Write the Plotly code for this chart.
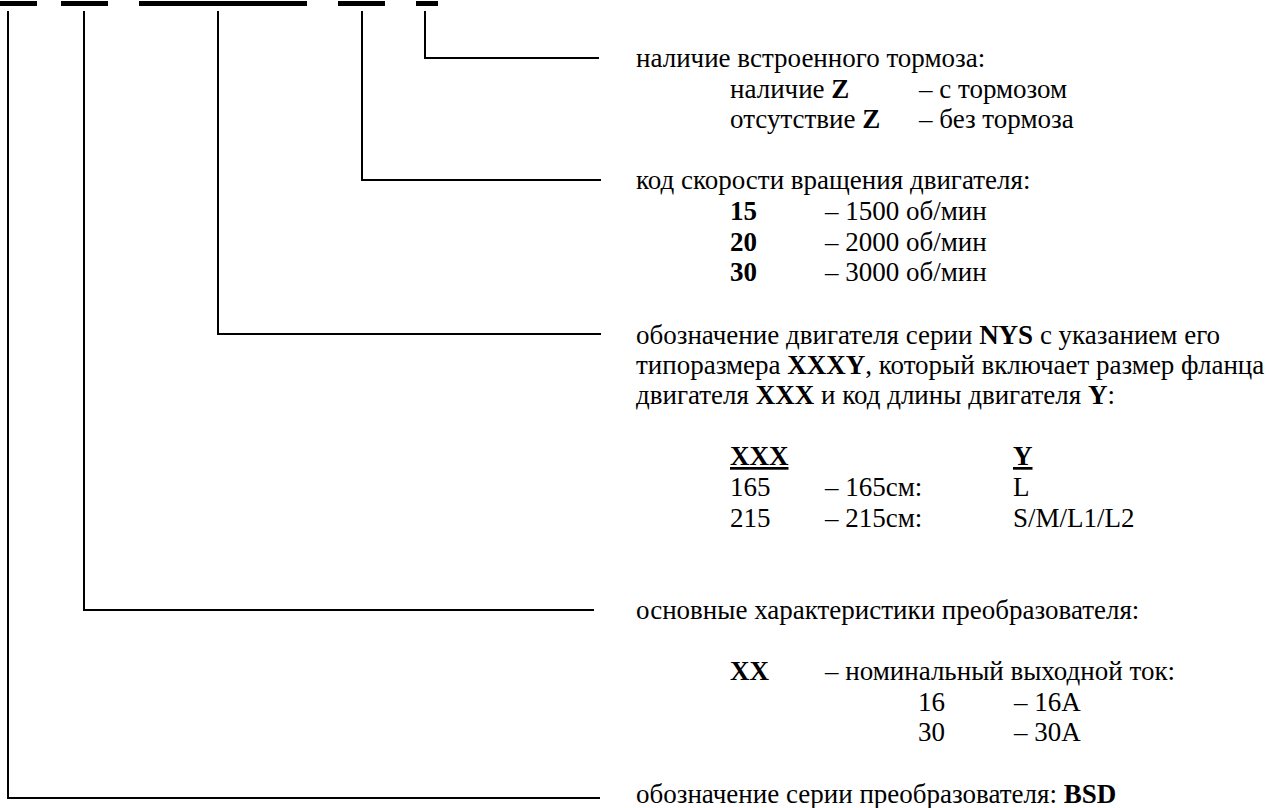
import plotly.graph_objects as go

W, H = 1269, 808
FONT = "Liberation Serif, Times New Roman, serif"
FS = 27

# code placeholder segments at the top (start x, end x)
seg_x0 = [0, 61, 139, 338, 416]
seg_x1 = [37, 108, 307, 385, 438]
seg_y = 3.5

# leader lines: vertical x, bend y, horizontal end x
lead_x = [8, 84, 218, 362, 425]
lead_y = [798, 610, 334, 180, 58]
lead_end = [600, 594, 601, 601, 599]
lead_top = 11

# text rows
text_x = [636, 730, 918,
          730, 918,
          636, 730, 824, 730, 824, 730, 824,
          636, 636, 636,
          730, 1013,
          730, 824, 1013,
          730, 824, 1013,
          636,
          730, 824,
          918, 1013,
          918, 1013,
          636]
text_y = [58, 89, 89,
          119, 119,
          180, 211, 211, 242, 242, 272, 272,
          335, 365, 395,
          456, 456,
          487, 487, 487,
          518, 518, 518,
          610,
          671, 671,
          702, 702,
          732, 732,
          794]
text_s = ["наличие встроенного тормоза:", "наличие <b>Z</b>", "– с тормозом",
          "отсутствие <b>Z</b>", "– без тормоза",
          "код скорости вращения двигателя:", "<b>15</b>", "– 1500 об/мин",
          "<b>20</b>", "– 2000 об/мин", "<b>30</b>", "– 3000 об/мин",
          "обозначение двигателя серии <b>NYS</b> с указанием его",
          "типоразмера <b>XXXY</b>, который включает размер фланца",
          "двигателя <b>XXX</b> и код длины двигателя <b>Y</b>:",
          "<b><u>XXX</u></b>", "<b><u>Y</u></b>",
          "165", "– 165см:", "L",
          "215", "– 215см:", "S/M/L1/L2",
          "основные характеристики преобразователя:",
          "<b>XX</b>", "– номинальный выходной ток:",
          "16", "– 16A",
          "30", "– 30A",
          "обозначение серии преобразователя: <b>BSD</b>"]

fig = go.Figure()

# top segments
for a, b in zip(seg_x0, seg_x1):
    fig.add_trace(go.Scatter(x=[a, b], y=[seg_y, seg_y], mode="lines",
                             line=dict(color="black", width=5),
                             hoverinfo="skip", showlegend=False))

# leader lines
for lx, ly, le in zip(lead_x, lead_y, lead_end):
    fig.add_trace(go.Scatter(x=[lx, lx, le], y=[lead_top, ly, ly], mode="lines",
                             line=dict(color="black", width=2),
                             hoverinfo="skip", showlegend=False))

for x, y, s in zip(text_x, text_y, text_s):
    fig.add_annotation(x=x - 2, y=y, text=s, showarrow=False,
                       xanchor="left", yanchor="middle",
                       font=dict(family=FONT, size=FS, color="black"))

fig.update_layout(
    width=W, height=H,
    margin=dict(l=0, r=0, t=0, b=0),
    paper_bgcolor="white", plot_bgcolor="white",
    xaxis=dict(range=[0, W], visible=False, fixedrange=True),
    yaxis=dict(range=[H, 0], visible=False, fixedrange=True),
)

fig.write_html("out.html",
               config={"displayModeBar": False, "staticPlot": True},
               post_script="document.body.style.margin='0';document.body.style.overflow='hidden';")
